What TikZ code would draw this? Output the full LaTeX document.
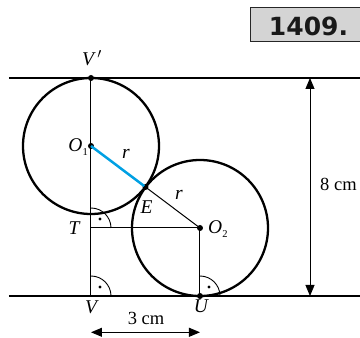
\documentclass[tikz,border=0pt]{standalone}
\usepackage{fontspec}
\setmainfont{Liberation Serif}
\newfontfamily\boxfont{DejaVu Sans}
\usetikzlibrary{arrows.meta}
\definecolor{segblue}{RGB}{0,160,227}
\definecolor{boxgray}{RGB}{212,212,212}
\begin{document}
\begin{tikzpicture}[x=1pt,y=1pt,
  thickline/.style={line width=2.6pt},
  circline/.style={line width=2.3pt},
  thinline/.style={line width=1pt},
  lab/.style={font=\fontsize{19.5}{19.5}\selectfont\itshape, inner sep=0},
  dimlab/.style={font=\fontsize{18.5}{18.5}\selectfont, inner sep=0},
  pt/.style={circle, fill, inner sep=0, minimum size=6pt},
  dimarrow/.style={line width=0.9pt, {Triangle[length=11pt,width=9pt]}-{Triangle[length=11pt,width=9pt]}},
  ranglemark/.style={line width=0.9pt},
]
\useasboundingbox (0,0) rectangle (360,338);
% key points
\coordinate (L1) at (9,260);
\coordinate (R1) at (362,260);
\coordinate (L2) at (9,42);
\coordinate (R2) at (362,42);
\coordinate (V) at (91,42);
\coordinate (T) at (91,110);
\coordinate (DA) at (310,260);
\coordinate (DB) at (310,42);
\coordinate (HA) at (91,5.7);
\coordinate (HB) at (200,5.7);
\node[pt] (Vp) at (91,260) {};
\node[pt] (O1) at (91,192) {};
\node[pt] (E) at (145.5,151) {};
\node[pt] (O2) at (200,110) {};
\node[pt] (U) at (200,42) {};
% thin lines
\draw[thinline] (Vp.center) -- (V);
\draw[thinline] (T) -- (O2.center);
\draw[thinline] (O2.center) -- (U.center);
\draw[thinline] (E.center) -- (O2.center);
\draw[line width=2.5pt, segblue] (O1.center) -- (E.center);
% right angle marks
\draw[ranglemark] ([yshift=20pt]T) arc[start angle=90,end angle=0,radius=20pt];
\draw[ranglemark] ([yshift=20pt]V) arc[start angle=90,end angle=0,radius=20pt];
\draw[ranglemark] ([yshift=20pt]U.center) arc[start angle=90,end angle=0,radius=20pt];
\fill ([shift={(9,9)}]T) circle (1.7);
\fill ([shift={(9,9)}]V) circle (1.7);
\fill ([shift={(9,9)}]U.center) circle (1.7);
% circles
\draw[circline] (O1.center) circle (68);
\draw[circline] (O2.center) circle (68);
% parallel lines
\draw[thickline] (L1) -- (R1);
\draw[thickline] (L2) -- (R2);
% dimensions
\draw[dimarrow] (DA) -- (DB);
\draw[dimarrow] (HA) -- (HB);
\node[dimlab, anchor=west] (d8) at (320,154) {8 cm};
\node[dimlab] (d3) at (146,20) {3 cm};
% labels
\node[lab] (lVp) at (92,280) {V\,$'$};
\node[lab, anchor=east] (lO1) at (88,191) {O\raisebox{-0.35ex}{\upshape\fontsize{10.5}{10.5}\selectfont 1}};
\node[lab] (lr1) at (126,184) {r};
\node[lab] (lE) at (146.5,131) {E};
\node[lab] (lr2) at (179,143) {r};
\node[lab] (lT) at (74,110) {T};
\node[lab, anchor=west] (lO2) at (208,109) {O\raisebox{-0.35ex}{\upshape\fontsize{10.5}{10.5}\selectfont 2}};
\node[lab] (lV) at (91,31) {V};
\node[lab] (lU) at (201,32) {U};
% problem number
\node[draw=black!85, fill=boxgray, line width=1pt, minimum width=111pt, minimum height=34pt, inner sep=0] (boxn) at (306.5,313) {};
\node[font=\boxfont\bfseries\fontsize{25}{25}\selectfont, inner sep=0, text=black!90] (num) at (308.5,312) {1409.};
\end{tikzpicture}
\end{document}
